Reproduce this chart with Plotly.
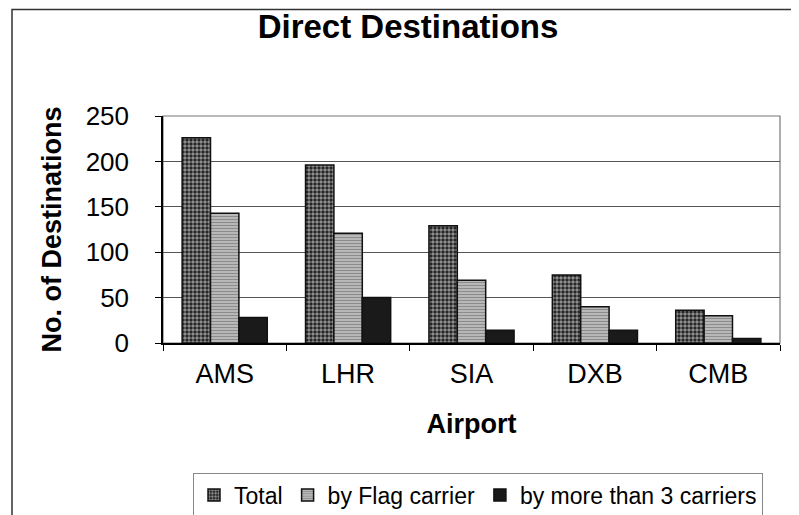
import plotly.graph_objects as go

airports = ["AMS", "LHR", "SIA", "DXB", "CMB"]
total = [226, 196, 129, 75, 36]
flag_carrier = [143, 121, 69, 40, 30]
more_than_3 = [28, 50, 14, 14, 5]
y_ticks = [0, 50, 100, 150, 200, 250]

FONT = "Liberation Sans, Arial, sans-serif"

# plot-area pixel geometry (for decoration shapes only)
L, R, T, B = 155, 772, 108, 335
W, H = 799, 515
def px(x):
    return (x - L) / (R - L)
def py(y):
    return (B - y) / (B - T)

fig = go.Figure()
fig.add_trace(go.Bar(
    name="Total", x=airports, y=total,
    marker=dict(color="#1a1a1a", line=dict(color="#111", width=1.5),
                pattern=dict(shape=".", bgcolor="#1a1a1a", fgcolor="white",
                             size=4, solidity=0.6)),
))
fig.add_trace(go.Bar(
    name="by Flag carrier", x=airports, y=flag_carrier,
    marker=dict(color="white", line=dict(color="#111", width=1.5),
                pattern=dict(shape="-", bgcolor="white", fgcolor="#1a1a1a",
                             size=3, solidity=0.75)),
))
fig.add_trace(go.Bar(
    name="by more than 3 carriers", x=airports, y=more_than_3,
    marker=dict(color="#1a1a1a", line=dict(color="#111", width=1.5)),
))

fig.update_layout(
    width=W, height=H,
    margin=dict(l=L, r=W - R, t=T, b=H - B),
    paper_bgcolor="white", plot_bgcolor="white",
    font=dict(family=FONT, color="black", size=26),
    barmode="group", bargap=0.31, bargroupgap=0,
    title=dict(text="Direct Destinations", x=px(400), xanchor="center",
               xref="paper", y=1 - 18 / H, yref="container", yanchor="middle",
               font=dict(size=33, weight="bold", family=FONT)),
    legend=dict(orientation="h", x=px(470), xanchor="center",
                yref="container", y=(H - 487) / H, yanchor="middle",
                bordercolor="#888", borderwidth=1, bgcolor="white",
                font=dict(size=23, family=FONT), itemwidth=30,
                traceorder="normal"),
    showlegend=True,
)

fig.update_xaxes(
    automargin=False,
    showline=True, linecolor="black", linewidth=1.5,
    ticks="outside", tickson="boundaries", ticklen=6, tickcolor="black",
    ticklabelstandoff=6, tickfont=dict(size=27),
    title=dict(text="Airport", font=dict(size=27, weight="bold"), standoff=26),
)
fig.update_yaxes(
    automargin=False,
    range=[0, 250], tickvals=y_ticks,
    showline=True, linecolor="black", linewidth=1.5,
    ticks="outside", ticklen=6, tickcolor="black",
    ticklabelstandoff=21, tickfont=dict(size=26),
    showgrid=True, gridcolor="#555", gridwidth=1, zeroline=False,
    title=dict(text="No. of Destinations", font=dict(size=27, weight="bold"),
               standoff=16),
)

# plot-area frame (grey, Excel style) and outer chart border
fig.add_shape(type="rect", xref="paper", yref="paper", x0=0, y0=0, x1=1, y1=1,
              line=dict(color="#777", width=1.2), layer="below")
fig.add_shape(type="rect", xref="paper", yref="paper",
              x0=px(4), y0=py(530), x1=px(815), y1=py(1.5),
              line=dict(color="#333", width=1.5), layer="below")

fig.write_html("out.html")
